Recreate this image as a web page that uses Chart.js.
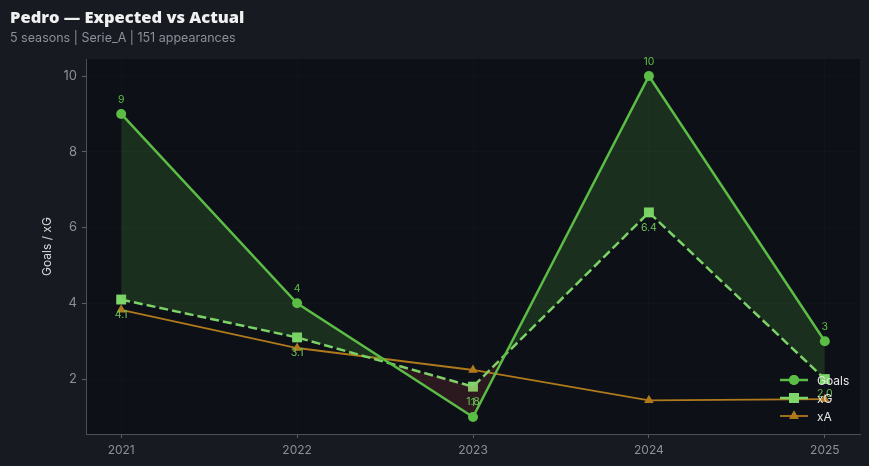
<!DOCTYPE html>
<html>
<head>
<meta charset="utf-8">
<script src="https://cdn.jsdelivr.net/npm/chart.js@4"></script>
<style>
  html, body { margin: 0; padding: 0; background: #171a21; }
  #wrap { width: 869px; height: 466px; position: relative; }
</style>
</head>
<body>
<div id="wrap"><canvas id="chart"></canvas></div>
<script>
// seasons and values
const seasons = [2021, 2022, 2023, 2024, 2025];
const goals = [9, 4, 1, 10, 3];
const xG = [4.1, 3.1, 1.8, 6.4, 2.0];
const xA = [3.83, 2.82, 2.24, 1.44, 1.47];
const yTicks = [2, 4, 6, 8, 10];

const GOALS_COLOR = '#5bbd45';
const XG_COLOR = '#7ed66b';
const XA_COLOR = '#b07a1c';

const toPoints = vals => vals.map((v, i) => ({ x: seasons[i], y: v }));

// plot background + title block
const backdrop = {
    id: 'backdrop',
    beforeDraw(chart) {
        const { ctx, chartArea: a } = chart;
        ctx.save();
        ctx.fillStyle = '#0d1017';
        ctx.fillRect(a.left, a.top, a.right - a.left, a.bottom - a.top);
        ctx.restore();
    },
    afterDraw(chart) {
        const ctx = chart.ctx;
        ctx.save();
        ctx.textBaseline = 'alphabetic';
        ctx.fillStyle = '#f0f0f0';
        ctx.font = '800 16.5px "Open Sans"';
        ctx.fillText('Pedro — Expected vs Actual', 10, 23);
        ctx.fillStyle = '#8b909a';
        ctx.font = '12.5px Inter';
        ctx.fillText('5 seasons | Serie_A | 151 appearances', 10, 42);
        ctx.restore();
    }
};

// value labels: goals above, xG below
const valueLabels = {
    id: 'valueLabels',
    afterDatasetsDraw(chart) {
        const ctx = chart.ctx;
        ctx.save();
        ctx.font = '10.5px Inter';
        ctx.textAlign = 'center';
        ctx.textBaseline = 'middle';
        chart.getDatasetMeta(0).data.forEach((pt, i) => {
            ctx.fillStyle = GOALS_COLOR;
            ctx.fillText(String(goals[i]), pt.x, pt.y - 14);
        });
        chart.getDatasetMeta(1).data.forEach((pt, i) => {
            ctx.fillStyle = '#6cc459';
            ctx.fillText(xG[i].toFixed(1), pt.x, pt.y + 15);
        });
        ctx.restore();
    }
};

// matplotlib-style legend: short line with marker
const lineLegend = {
    id: 'lineLegend',
    afterDraw(chart) {
        const ctx = chart.ctx;
        const a = chart.chartArea;
        const x0 = a.right - 80, x1 = x0 + 28, tx = x1 + 9;
        const rows = [a.bottom - 54, a.bottom - 36, a.bottom - 18];
        ctx.save();
        chart.data.datasets.forEach((ds, i) => {
            const y = rows[i];
            ctx.strokeStyle = ds.borderColor;
            ctx.lineWidth = ds.borderWidth;
            ctx.beginPath();
            ctx.moveTo(x0, y);
            ctx.lineTo(x1, y);
            ctx.stroke();
            ctx.fillStyle = ds.pointBackgroundColor;
            ctx.beginPath();
            Chart.helpers.drawPoint(ctx, { pointStyle: ds.pointStyle, radius: ds.pointRadius, borderWidth: 0 }, (x0 + x1) / 2, y);
            ctx.fill();
            ctx.fillStyle = '#e6e6e6';
            ctx.font = '12px Inter';
            ctx.textBaseline = 'middle';
            ctx.fillText(ds.label, tx, y + 1);
        });
        ctx.restore();
    }
};

new Chart(document.getElementById('chart'), {
    type: 'line',
    data: {
        datasets: [
            {
                label: 'Goals',
                data: toPoints(goals),
                borderColor: GOALS_COLOR,
                borderWidth: 2.5,
                pointStyle: 'circle',
                pointRadius: 5,
                pointBackgroundColor: GOALS_COLOR,
                pointBorderWidth: 0,
                fill: { target: 1, above: 'rgba(91,189,69,0.18)', below: 'rgba(220,80,80,0.15)' },
                order: 1
            },
            {
                label: 'xG',
                data: toPoints(xG),
                borderColor: XG_COLOR,
                borderWidth: 2.5,
                borderDash: [9, 4],
                pointStyle: 'rect',
                pointRadius: 7,
                pointBackgroundColor: XG_COLOR,
                pointBorderWidth: 0,
                fill: false,
                order: 2
            },
            {
                label: 'xA',
                data: toPoints(xA),
                borderColor: XA_COLOR,
                borderWidth: 1.8,
                pointStyle: 'triangle',
                pointRadius: 5.5,
                pointBackgroundColor: XA_COLOR,
                pointBorderWidth: 0,
                fill: false,
                order: 3
            }
        ]
    },
    options: {
        responsive: true,
        maintainAspectRatio: false,
        animation: false,
        layout: { padding: { top: 59, right: 9, left: 0, bottom: 0 } },
        plugins: {
            legend: { display: false },
            tooltip: { enabled: false }
        },
        scales: {
            x: {
                type: 'linear',
                min: 2020.8,
                max: 2025.2,
                afterBuildTicks: s => { s.ticks = seasons.map(v => ({ value: v })); },
                afterFit: s => { s.height = 32; },
                ticks: {
                    color: '#8b909a',
                    font: { family: 'Inter', size: 12 },
                    padding: 5,
                    callback: v => String(v)
                },
                grid: { color: 'rgba(255,255,255,0.02)', tickColor: '#5a5f6a', tickLength: 4 },
                border: { color: '#4a4f5a' }
            },
            y: {
                min: 0.55,
                max: 10.45,
                afterBuildTicks: s => { s.ticks = yTicks.map(v => ({ value: v })); },
                afterFit: s => { s.width = 86; },
                ticks: {
                    color: '#8b909a',
                    font: { family: 'Inter', size: 13 },
                    padding: 5
                },
                grid: { color: 'rgba(255,255,255,0.02)', tickColor: '#5a5f6a', tickLength: 4 },
                border: { color: '#4a4f5a' },
                title: {
                    display: true,
                    text: 'Goals / xG',
                    color: '#d8d8d8',
                    font: { family: 'Inter', size: 12 },
                    padding: { top: 40, bottom: 0 }
                }
            }
        }
    },
    plugins: [backdrop, valueLabels, lineLegend]
});
</script>
</body>
</html>
